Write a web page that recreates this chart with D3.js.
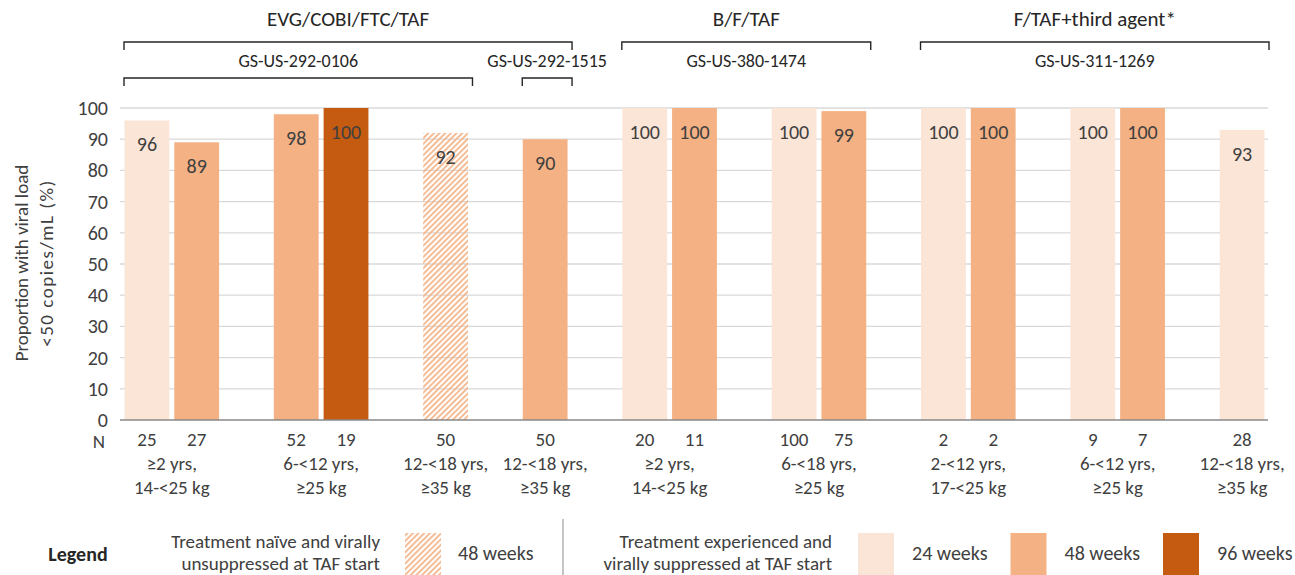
<!DOCTYPE html>
<html>
<head>
<meta charset="utf-8">
<script src="https://cdn.jsdelivr.net/npm/d3@7"></script>
<style>
    body { margin: 0; background: #fff; }
    svg text { font-family: Carlito, Calibri, Lato, "Open Sans", sans-serif; fill: #404040; }
</style>
</head>
<body>
<svg id="chart"></svg>
<script>
// Bars, in drawing order
const barValues = [96, 89, 98, 100, 92, 90, 100, 100, 100, 99, 100, 100, 100, 100, 93];
const barN = [25, 27, 52, 19, 50, 50, 20, 11, 100, 75, 2, 2, 9, 7, 28];
const barSeries = ["24 weeks", "48 weeks", "48 weeks", "96 weeks", "48 weeks naive", "48 weeks",
    "24 weeks", "48 weeks", "24 weeks", "48 weeks", "24 weeks", "48 weeks", "24 weeks", "48 weeks", "24 weeks"];
const barGroup = [0, 0, 1, 1, 2, 3, 4, 4, 5, 5, 6, 6, 7, 7, 8];

// Age / weight group labels
const groupLabels = [
    ["≥2 yrs,", "14-<25 kg"],
    ["6-<12 yrs,", "≥25 kg"],
    ["12-<18 yrs,", "≥35 kg"],
    ["12-<18 yrs,", "≥35 kg"],
    ["≥2 yrs,", "14-<25 kg"],
    ["6-<18 yrs,", "≥25 kg"],
    ["2-<12 yrs,", "17-<25 kg"],
    ["6-<12 yrs,", "≥25 kg"],
    ["12-<18 yrs,", "≥35 kg"]
];

// Regimens and studies (first group, last group)
const regimenNames = ["EVG/COBI/FTC/TAF", "B/F/TAF", "F/TAF+third agent*"];
const regimenGroups = [[0, 3], [4, 5], [6, 8]];
const studyNames = ["GS-US-292-0106", "GS-US-292-1515", "GS-US-380-1474", "GS-US-311-1269"];
const studyGroups = [[0, 2], [3, 3], [4, 5], [6, 8]];
const studyBracket = [true, true, false, false];

const yTicks = [0, 10, 20, 30, 40, 50, 60, 70, 80, 90, 100];

const colors = {
    "24 weeks": "#FBE5D6",
    "48 weeks": "#F4B183",
    "96 weeks": "#C55A11",
    "48 weeks naive": "url(#hatch)"
};

const width = 1295, height = 575;
const svg = d3.select("#chart").attr("width", width).attr("height", height);

// hatch pattern for naive group
svg.append("defs").append("pattern")
    .attr("id", "hatch")
    .attr("patternUnits", "userSpaceOnUse")
    .attr("width", 4)
    .attr("height", 4)
    .attr("patternTransform", "rotate(45)")
    .append("line")
    .attr("x1", 1).attr("y1", 0).attr("x2", 1).attr("y2", 4)
    .attr("stroke", "#F4B183")
    .attr("stroke-width", 1.7);

// Build slots: one per bar, with an empty slot between groups
const slots = [];
barValues.forEach((v, i) => {
    if (i > 0 && barGroup[i] !== barGroup[i - 1]) slots.push("gap" + i);
    slots.push("bar" + i);
});

const x = d3.scaleBand()
    .domain(slots)
    .range([122, 1267])
    .paddingInner(0.1)
    .paddingOuter(0.05);

const y = d3.scaleLinear().domain([0, 100]).range([420, 108]);

const halfGap = (x.step() - x.bandwidth()) / 2;
const barsOf = g => barGroup.map((d, i) => d === g ? i : -1).filter(i => i >= 0);
const groupLeft = g => x("bar" + barsOf(g)[0]) - halfGap;
const groupRight = g => { const b = barsOf(g); return x("bar" + b[b.length - 1]) + x.bandwidth() + halfGap; };
const groupCenter = g => (groupLeft(g) + groupRight(g)) / 2;

// Grid lines
svg.append("g")
    .selectAll("line")
    .data(yTicks.filter(d => d > 0))
    .join("line")
    .attr("x1", 120).attr("x2", 1268)
    .attr("y1", d => y(d)).attr("y2", d => y(d))
    .attr("stroke", "#d9d9d9")
    .attr("stroke-width", 1.3);

// Y tick labels
svg.append("g")
    .selectAll("text")
    .data(yTicks)
    .join("text")
    .attr("x", 108)
    .attr("y", d => y(d))
    .attr("dy", "0.35em")
    .attr("text-anchor", "end")
    .style("font-size", "20px")
    .text(d => d);

// Y axis title
const yTitle = svg.append("text")
    .attr("transform", "translate(28,263) rotate(-90)")
    .attr("text-anchor", "middle")
    .style("font-size", "19px");
yTitle.append("tspan").attr("x", 0).attr("dy", 0).text("Proportion with viral load");
yTitle.append("tspan").attr("x", 0).attr("dy", 25).style("letter-spacing", "1.5px").text("<50 copies/mL (%)");

// Bars
svg.append("g")
    .selectAll("rect")
    .data(barValues)
    .join("rect")
    .attr("x", (d, i) => x("bar" + i))
    .attr("width", x.bandwidth())
    .attr("y", d => y(d))
    .attr("height", d => y(0) - y(d))
    .attr("fill", (d, i) => colors[barSeries[i]]);

// Value labels
svg.append("g")
    .selectAll("text")
    .data(barValues)
    .join("text")
    .attr("x", (d, i) => x("bar" + i) + x.bandwidth() / 2)
    .attr("y", d => y(d) + 24)
    .attr("dy", "0.35em")
    .attr("text-anchor", "middle")
    .style("font-size", "20px")
    .text(d => d);

// X axis line
svg.append("line")
    .attr("x1", 120).attr("x2", 1268)
    .attr("y1", y(0)).attr("y2", y(0))
    .attr("stroke", "#898989")
    .attr("stroke-width", 1.5);

// N row
svg.append("text")
    .attr("x", 99).attr("y", 441)
    .attr("dy", "0.35em")
    .attr("text-anchor", "middle")
    .style("font-size", "19px")
    .text("N");

svg.append("g")
    .selectAll("text")
    .data(barN)
    .join("text")
    .attr("x", (d, i) => x("bar" + i) + x.bandwidth() / 2)
    .attr("y", 439)
    .attr("dy", "0.35em")
    .attr("text-anchor", "middle")
    .style("font-size", "19px")
    .text(d => d);

// Group labels
const gl = svg.append("g")
    .selectAll("text")
    .data(groupLabels)
    .join("text")
    .attr("text-anchor", "middle")
    .style("font-size", "19px");
gl.append("tspan")
    .attr("x", (d, i) => groupCenter(i))
    .attr("y", 463)
    .attr("dy", "0.35em")
    .text(d => d[0]);
gl.append("tspan")
    .attr("x", (d, i) => groupCenter(i))
    .attr("y", 487)
    .attr("dy", "0.35em")
    .text(d => d[1]);

// Brackets
function bracket(x0, x1, yy) {
    svg.append("path")
        .attr("d", `M${x0},${yy + 8}V${yy}H${x1}V${yy + 8}`)
        .attr("fill", "none")
        .attr("stroke", "#262626")
        .attr("stroke-width", 1.4);
}

regimenNames.forEach((name, i) => {
    const x0 = groupLeft(regimenGroups[i][0]) + 2, x1 = groupRight(regimenGroups[i][1]) + 2;
    bracket(x0, x1, 42);
    svg.append("text")
        .attr("x", (x0 + x1) / 2)
        .attr("y", 19)
        .attr("dy", "0.35em")
        .attr("text-anchor", "middle")
        .style("font-size", "21px")
        .style("fill", "#262626")
        .text(name);
});

studyNames.forEach((name, i) => {
    const x0 = groupLeft(studyGroups[i][0]) + 2, x1 = groupRight(studyGroups[i][1]) + 2;
    if (studyBracket[i]) bracket(x0, x1, 78);
    svg.append("text")
        .attr("x", (x0 + x1) / 2)
        .attr("y", 61)
        .attr("dy", "0.35em")
        .attr("text-anchor", "middle")
        .style("font-size", "18px")
        .style("fill", "#262626")
        .text(name);
});

// Legend
const legend = svg.append("g");
legend.append("text")
    .attr("x", 78).attr("y", 554).attr("dy", "0.35em")
    .attr("text-anchor", "middle")
    .style("font-size", "20px").style("font-weight", "bold").style("fill", "#262626")
    .text("Legend");

const naive = legend.append("text").attr("text-anchor", "end").style("font-size", "19px");
naive.append("tspan").attr("x", 380).attr("y", 541).attr("dy", "0.35em").text("Treatment naïve and virally");
naive.append("tspan").attr("x", 380).attr("y", 563).attr("dy", "0.35em").text("unsuppressed at TAF start");

legend.append("rect")
    .attr("x", 405).attr("y", 533).attr("width", 36).attr("height", 42)
    .attr("fill", colors["48 weeks naive"]);
legend.append("text")
    .attr("x", 458).attr("y", 553).attr("dy", "0.35em")
    .style("font-size", "20px")
    .text("48 weeks");

legend.append("line")
    .attr("x1", 563).attr("x2", 563).attr("y1", 519).attr("y2", 575)
    .attr("stroke", "#a6a6a6").attr("stroke-width", 1.3);

const exp = legend.append("text").attr("text-anchor", "end").style("font-size", "19px");
exp.append("tspan").attr("x", 832).attr("y", 541).attr("dy", "0.35em").text("Treatment experienced and");
exp.append("tspan").attr("x", 832).attr("y", 563).attr("dy", "0.35em").text("virally suppressed at TAF start");

const legendSeries = ["24 weeks", "48 weeks", "96 weeks"];
const legendX = d3.scalePoint().domain(legendSeries).range([858, 1163]);
legendSeries.forEach(s => {
    legend.append("rect")
        .attr("x", legendX(s)).attr("y", 533).attr("width", 36).attr("height", 42)
        .attr("fill", colors[s]);
    legend.append("text")
        .attr("x", legendX(s) + 54).attr("y", 553).attr("dy", "0.35em")
        .style("font-size", "20px")
        .text(s);
});
</script>
</body>
</html>
